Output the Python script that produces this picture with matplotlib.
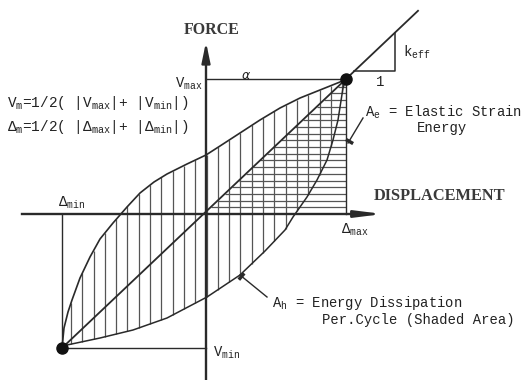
import numpy as np
import matplotlib
matplotlib.use("Agg")
import matplotlib.pyplot as plt

# ---- data (displacement, force) in drawing units ----
d_max, v_max = 140, 135
d_min, v_min = -144, -134

# upper (loading) branch from (d_min, v_min) to (d_max, v_max)
upper_d = [-144, -142, -138, -134, -126, -116, -106, -93, -79, -66, -52, -39, -19, 0, 14, 34, 54, 74, 94, 114, 134, 140]
upper_v = [-134, -114, -98, -86, -64, -43, -25, -9, 7, 21, 32, 40, 50, 59, 68, 81, 94, 106, 116, 124, 132, 135]

# lower (unloading) branch from (d_max, v_max) back to (d_min, v_min)
lower_d = [140, 137, 132, 127, 121, 111, 101, 87, 79, 59, 34, 1, -39, -73, -106, -139, -144]
lower_v = [135, 126, 94, 74, 54, 34, 17, -3, -16, -37, -61, -83, -104, -116, -124, -131, -134]

MONO = "Liberation Mono"
SERIF = "Liberation Serif"
INK = "#2a2a2a"
TXT = "#222222"

fig = plt.figure(figsize=(5.29, 3.8), dpi=100)
ax = fig.add_axes([0, 0, 1, 1])
ax.set_xlim(-206, 323)
ax.set_ylim(-166, 214)
ax.axis("off")

# ---- hatching: vertical lines inside loop ----
lo_d = np.array(lower_d[::-1], float)
lo_v = np.array(lower_v[::-1], float)
up_d = np.array(upper_d, float)
up_v = np.array(upper_v, float)
hx = np.arange(-135, d_max - 2, 11.3)
ax.vlines(hx, np.interp(hx, lo_d, lo_v), np.interp(hx, up_d, up_v),
          color="#555555", lw=0.9, zorder=1)

# ---- secant line (effective stiffness) ----
k = (v_max - v_min) / (d_max - d_min)
b = v_max - k * d_max
# horizontal hatching: elastic strain energy triangle
hy = np.arange(6.7, v_max, 6.7)
ax.hlines(hy, (hy - b) / k, d_max, color="#555555", lw=0.9, zorder=1)

x_end = 212
ax.plot([d_min, x_end], [k * d_min + b, k * x_end + b], color=INK, lw=1.3, zorder=3)

# k_eff triangle
ty = 143
tx0 = (ty - b) / k
tx1 = 189
ax.plot([tx0, tx1, tx1], [ty, ty, k * tx1 + b], color=INK, lw=1.1, zorder=3)

# ---- loop branches ----
ax.plot(upper_d, upper_v, color=INK, lw=1.2, zorder=3)
ax.plot(lower_d, lower_v, color=INK, lw=1.1, zorder=3)

# ---- axes ----
ax.plot([0, 0], [-166, 160], color=INK, lw=1.7, zorder=4)
ax.annotate("", xy=(0, 172), xytext=(0, 150),
            arrowprops=dict(arrowstyle="-|>,head_length=1.2,head_width=0.25",
                            color=INK, lw=1.7, shrinkA=0, shrinkB=0), zorder=4)
ax.plot([-184, 160], [0, 0], color=INK, lw=1.7, zorder=4)
ax.annotate("", xy=(177, 0), xytext=(150, 0),
            arrowprops=dict(arrowstyle="-|>,head_length=1.6,head_width=0.2",
                            color=INK, lw=1.7, shrinkA=0, shrinkB=0), zorder=4)

# reference lines to peaks
ax.plot([0, d_max], [v_max, v_max], color=INK, lw=1.0, zorder=3)
ax.plot([d_max, d_max], [v_max, 0], color=INK, lw=1.0, zorder=3)
ax.plot([d_min, 0], [v_min, v_min], color=INK, lw=1.0, zorder=3)
ax.plot([d_min, d_min], [v_min, 0], color=INK, lw=1.0, zorder=3)

# peak points
ax.plot([d_max, d_min], [v_max, v_min], "o", color="#111111", ms=8, zorder=5)

# ---- leaders ----
ax.plot([157, 142], [96, 71], color=INK, lw=1.0, zorder=3)
ax.plot([143], [73], marker=(2, 0, 60), color=INK, ms=6, mew=2.5, zorder=3)
ax.plot([34, 61], [-61, -83], color=INK, lw=1.0, zorder=3)
ax.plot([35], [-62], marker=(2, 0, -40), color=INK, ms=6, mew=2.5, zorder=3)

# ---- text ----
def t(x, y, s, size=10, ha="left", va="center", family=MONO, **kw):
    ax.text(x, y, s, fontsize=size, family=family, color=TXT,
            ha=ha, va=va, **kw)

ax.text(6, 184, "FORCE", fontsize=11.5, family=SERIF, weight="bold",
        color="#3a3a3a", ha="center", va="center")
ax.text(234, 18, "DISPLACEMENT", fontsize=11.8, family=SERIF, weight="bold",
        color="#3a3a3a", ha="center", va="center")
t(-3, 130, r"$\mathregular{V_{max}}$", ha="right")
t(7, -139, r"$\mathregular{V_{min}}$")
t(-134, 11, r"$\mathregular{\Delta_{min}}$", ha="center")
t(149, -16, r"$\mathregular{\Delta_{max}}$", ha="center")
t(40, 138, r"$\alpha$", size=9, ha="center")
t(197, 162, r"$\mathregular{k_{eff}}$")
t(174, 132, "1", ha="center")
t(-199, 111, r"$\mathregular{V_m}$=1/2( |$\mathregular{V_{max}}$|+ |$\mathregular{V_{min}}$|)", size=10.4)
t(-199, 87, r"$\mathregular{\Delta_m}$=1/2( |$\mathregular{\Delta_{max}}$|+ |$\mathregular{\Delta_{min}}$|)", size=10.4)
t(159, 102, r"$\mathregular{A_e}$ = Elastic Strain")
t(211, 86, "Energy")
t(66, -89, r"$\mathregular{A_h}$ = Energy Dissipation")
t(116, -106, "Per.Cycle (Shaded Area)")

fig.savefig("out.png", dpi=100)
